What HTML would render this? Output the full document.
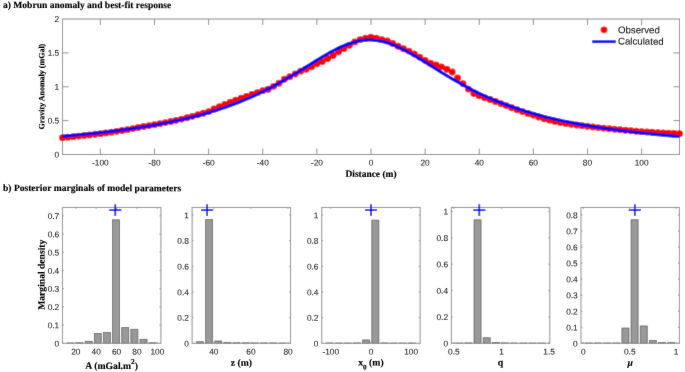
<!DOCTYPE html>
<html><head><meta charset="utf-8"><style>
html,body{margin:0;padding:0;background:#fff;}
body{width:685px;height:372px;overflow:hidden;}
svg{display:block;will-change:transform;text-rendering:geometricPrecision;}
</style></head><body>
<svg width="685" height="372" viewBox="0 0 685 372">
<defs><filter id="bl" x="0" y="0" width="685" height="372" filterUnits="userSpaceOnUse"><feConvolveMatrix order="3" kernelMatrix="0.01000 0.08000 0.01000 0.08000 0.64000 0.08000 0.01000 0.08000 0.01000" edgeMode="duplicate"/></filter><filter id="bl2" x="0" y="0" width="685" height="372" filterUnits="userSpaceOnUse"><feConvolveMatrix order="3" kernelMatrix="0.00250 0.04500 0.00250 0.04500 0.81000 0.04500 0.00250 0.04500 0.00250" edgeMode="duplicate"/></filter></defs>
<g filter="url(#bl)">
<rect x="0" y="0" width="685" height="372" fill="#fff"/>
<g fill="none" stroke="#8c8c8c" stroke-width="1">
<rect x="62.5" y="19" width="617" height="135.5"/>
<path d="M100.39 154.5V148.5M100.39 19V25M154.51 154.5V148.5M154.51 19V25M208.63 154.5V148.5M208.63 19V25M262.75 154.5V148.5M262.75 19V25M316.88 154.5V148.5M316.88 19V25M371 154.5V148.5M371 19V25M425.12 154.5V148.5M425.12 19V25M479.25 154.5V148.5M479.25 19V25M533.37 154.5V148.5M533.37 19V25M587.49 154.5V148.5M587.49 19V25M641.61 154.5V148.5M641.61 19V25M62.5 120.62H68.5M679.5 120.62H673.5M62.5 86.75H68.5M679.5 86.75H673.5M62.5 52.88H68.5M679.5 52.88H673.5"/>
</g>
<g fill="#ff0000"><circle cx="62.5" cy="137.71" r="3.45"/><circle cx="67.91" cy="137.19" r="3.45"/><circle cx="73.32" cy="136.66" r="3.45"/><circle cx="78.74" cy="136.1" r="3.45"/><circle cx="84.15" cy="135.53" r="3.45"/><circle cx="89.56" cy="134.93" r="3.45"/><circle cx="94.97" cy="134.31" r="3.45"/><circle cx="100.39" cy="133.66" r="3.45"/><circle cx="105.8" cy="132.91" r="3.45"/><circle cx="111.21" cy="132.14" r="3.45"/><circle cx="116.62" cy="131.34" r="3.45"/><circle cx="122.04" cy="130.5" r="3.45"/><circle cx="127.45" cy="129.63" r="3.45"/><circle cx="132.86" cy="128.58" r="3.45"/><circle cx="138.27" cy="127.49" r="3.45"/><circle cx="143.68" cy="126.5" r="3.45"/><circle cx="149.1" cy="125.59" r="3.45"/><circle cx="154.51" cy="124.64" r="3.45"/><circle cx="159.92" cy="123.64" r="3.45"/><circle cx="165.33" cy="122.59" r="3.45"/><circle cx="170.75" cy="121.49" r="3.45"/><circle cx="176.16" cy="120.34" r="3.45"/><circle cx="181.57" cy="119.12" r="3.45"/><circle cx="186.98" cy="117.76" r="3.45"/><circle cx="192.39" cy="116.33" r="3.45"/><circle cx="197.81" cy="114.82" r="3.45"/><circle cx="203.22" cy="113.25" r="3.45"/><circle cx="208.63" cy="111.59" r="3.45"/><circle cx="214.04" cy="109.07" r="3.45"/><circle cx="219.46" cy="106.66" r="3.45"/><circle cx="224.87" cy="104.49" r="3.45"/><circle cx="230.28" cy="102.23" r="3.45"/><circle cx="235.69" cy="100.3" r="3.45"/><circle cx="241.11" cy="98.27" r="3.45"/><circle cx="246.52" cy="96.43" r="3.45"/><circle cx="251.93" cy="94.48" r="3.45"/><circle cx="257.34" cy="92.62" r="3.45"/><circle cx="262.75" cy="90.64" r="3.45"/><circle cx="268.17" cy="89.28" r="3.45"/><circle cx="273.58" cy="86.35" r="3.45"/><circle cx="278.99" cy="83.31" r="3.45"/><circle cx="284.4" cy="79.25" r="3.45"/><circle cx="289.82" cy="76.79" r="3.45"/><circle cx="295.23" cy="73.97" r="3.45"/><circle cx="300.64" cy="71.17" r="3.45"/><circle cx="306.05" cy="69.27" r="3.45"/><circle cx="311.46" cy="66.83" r="3.45"/><circle cx="316.88" cy="63.87" r="3.45"/><circle cx="322.29" cy="61.46" r="3.45"/><circle cx="327.7" cy="58.49" r="3.45"/><circle cx="333.11" cy="55.56" r="3.45"/><circle cx="338.53" cy="51.77" r="3.45"/><circle cx="343.94" cy="48.48" r="3.45"/><circle cx="349.35" cy="45.33" r="3.45"/><circle cx="354.76" cy="41.9" r="3.45"/><circle cx="360.18" cy="39.65" r="3.45"/><circle cx="365.59" cy="38.22" r="3.45"/><circle cx="371" cy="37.29" r="3.45"/><circle cx="376.41" cy="38.22" r="3.45"/><circle cx="381.82" cy="39.58" r="3.45"/><circle cx="387.24" cy="40.88" r="3.45"/><circle cx="392.65" cy="43.57" r="3.45"/><circle cx="398.06" cy="46.18" r="3.45"/><circle cx="403.47" cy="48.73" r="3.45"/><circle cx="408.89" cy="51.09" r="3.45"/><circle cx="414.3" cy="54.02" r="3.45"/><circle cx="419.71" cy="57.12" r="3.45"/><circle cx="425.12" cy="60.35" r="3.45"/><circle cx="430.54" cy="63.17" r="3.45"/><circle cx="435.95" cy="64.94" r="3.45"/><circle cx="441.36" cy="66.83" r="3.45"/><circle cx="446.77" cy="69.3" r="3.45"/><circle cx="452.18" cy="72.05" r="3.45"/><circle cx="457.6" cy="77.9" r="3.45"/><circle cx="463.01" cy="83.79" r="3.45"/><circle cx="468.42" cy="89.1" r="3.45"/><circle cx="473.83" cy="93.55" r="3.45"/><circle cx="479.25" cy="95.85" r="3.45"/><circle cx="484.66" cy="97.77" r="3.45"/><circle cx="490.07" cy="99.56" r="3.45"/><circle cx="495.48" cy="101.51" r="3.45"/><circle cx="500.89" cy="103.62" r="3.45"/><circle cx="506.31" cy="105.62" r="3.45"/><circle cx="511.72" cy="107.71" r="3.45"/><circle cx="517.13" cy="109.71" r="3.45"/><circle cx="522.54" cy="111.6" r="3.45"/><circle cx="527.96" cy="113.4" r="3.45"/><circle cx="533.37" cy="115.12" r="3.45"/><circle cx="538.78" cy="116.95" r="3.45"/><circle cx="544.19" cy="118.7" r="3.45"/><circle cx="549.61" cy="120.17" r="3.45"/><circle cx="555.02" cy="121.38" r="3.45"/><circle cx="560.43" cy="122.51" r="3.45"/><circle cx="565.84" cy="123.38" r="3.45"/><circle cx="571.25" cy="124.19" r="3.45"/><circle cx="576.67" cy="124.94" r="3.45"/><circle cx="582.08" cy="125.64" r="3.45"/><circle cx="587.49" cy="126.29" r="3.45"/><circle cx="592.9" cy="126.96" r="3.45"/><circle cx="598.32" cy="127.59" r="3.45"/><circle cx="603.73" cy="128.17" r="3.45"/><circle cx="609.14" cy="128.72" r="3.45"/><circle cx="614.55" cy="129.23" r="3.45"/><circle cx="619.96" cy="129.77" r="3.45"/><circle cx="625.38" cy="130.28" r="3.45"/><circle cx="630.79" cy="130.76" r="3.45"/><circle cx="636.2" cy="131.21" r="3.45"/><circle cx="641.61" cy="131.63" r="3.45"/><circle cx="647.03" cy="131.98" r="3.45"/><circle cx="652.44" cy="132.31" r="3.45"/><circle cx="657.85" cy="132.62" r="3.45"/><circle cx="663.26" cy="132.91" r="3.45"/><circle cx="668.68" cy="133.17" r="3.45"/><circle cx="674.09" cy="133.42" r="3.45"/><circle cx="679.5" cy="133.64" r="3.45"/></g>
<polyline points="62.5,136.27 65.21,136.04 67.91,135.81 70.62,135.57 73.32,135.33 76.03,135.08 78.74,134.83 81.44,134.57 84.15,134.31 86.86,134.04 89.56,133.77 92.27,133.49 94.97,133.2 97.68,132.91 100.39,132.61 103.09,132.31 105.8,132 108.5,131.68 111.21,131.35 113.92,131.02 116.62,130.68 119.33,130.34 122.04,129.98 124.74,129.62 127.45,129.25 130.15,128.87 132.86,128.48 135.57,128.08 138.27,127.67 140.98,127.26 143.68,126.83 146.39,126.39 149.1,125.95 151.8,125.49 154.51,125.02 157.21,124.54 159.92,124.04 162.63,123.54 165.33,123.02 168.04,122.49 170.75,121.94 173.45,121.38 176.16,120.81 178.86,120.22 181.57,119.62 184.28,119 186.98,118.36 189.69,117.71 192.39,117.04 195.1,116.36 197.81,115.65 200.51,114.93 203.22,114.18 205.93,113.42 208.63,112.64 211.34,111.83 214.04,111.01 216.75,110.16 219.46,109.29 222.16,108.39 224.87,107.47 227.57,106.53 230.28,105.56 232.99,104.56 235.69,103.54 238.4,102.49 241.11,101.41 243.81,100.3 246.52,99.17 249.22,98 251.93,96.81 254.64,95.58 257.34,94.33 260.05,93.04 262.75,91.72 265.46,90.38 268.17,89 270.87,87.59 273.58,86.15 276.29,84.68 278.99,83.18 281.7,81.65 284.4,80.1 287.11,78.52 289.82,76.92 292.52,75.29 295.23,73.65 297.93,71.98 300.64,70.31 303.35,68.62 306.05,66.93 308.76,65.23 311.46,63.53 314.17,61.85 316.88,60.17 319.58,58.51 322.29,56.88 325,55.28 327.7,53.72 330.41,52.2 333.11,50.74 335.82,49.34 338.53,48.01 341.23,46.76 343.94,45.59 346.64,44.52 349.35,43.54 352.06,42.67 354.76,41.92 357.47,41.28 360.18,40.77 362.88,40.39 365.59,40.13 368.29,40.01 371,40.03 373.71,40.17 376.41,40.45 379.12,40.86 381.82,41.4 384.53,42.06 387.24,42.84 389.94,43.73 392.65,44.72 395.36,45.82 398.06,47 400.77,48.27 403.47,49.62 406.18,51.03 408.89,52.5 411.59,54.03 414.3,55.6 417,57.21 419.71,58.84 422.42,60.51 425.12,62.18 427.83,63.87 430.54,65.57 433.24,67.27 435.95,68.96 438.65,70.64 441.36,72.32 444.07,73.98 446.77,75.62 449.48,77.24 452.18,78.84 454.89,80.41 457.6,81.96 460.3,83.48 463.01,84.98 465.71,86.44 468.42,87.87 471.13,89.28 473.83,90.65 476.54,91.99 479.25,93.3 481.95,94.58 484.66,95.83 487.36,97.05 490.07,98.24 492.78,99.4 495.48,100.53 498.19,101.63 500.89,102.7 503.6,103.74 506.31,104.76 509.01,105.75 511.72,106.72 514.43,107.66 517.13,108.57 519.84,109.46 522.54,110.33 525.25,111.17 527.96,112 530.66,112.8 533.37,113.58 536.07,114.33 538.78,115.07 541.49,115.79 544.19,116.5 546.9,117.18 549.61,117.84 552.31,118.49 555.02,119.12 557.72,119.74 560.43,120.34 563.14,120.93 565.84,121.5 568.55,122.05 571.25,122.59 573.96,123.12 576.67,123.64 579.37,124.14 582.08,124.63 584.79,125.11 587.49,125.58 590.2,126.04 592.9,126.48 595.61,126.92 598.32,127.34 601.02,127.76 603.73,128.16 606.43,128.56 609.14,128.94 611.85,129.32 614.55,129.69 617.26,130.05 619.96,130.41 622.67,130.75 625.38,131.09 628.08,131.42 630.79,131.74 633.5,132.06 636.2,132.37 638.91,132.67 641.61,132.97 644.32,133.26 647.03,133.54 649.73,133.82 652.44,134.09 655.14,134.36 657.85,134.62 660.56,134.88 663.26,135.13 665.97,135.38 668.68,135.62 671.38,135.85 674.09,136.09 676.79,136.31 679.5,136.54" fill="none" stroke="#0000ff" stroke-width="3.1" stroke-linejoin="round"/>
<circle cx="604.0" cy="29.85" r="3.45" fill="#ff0000"/>
<line x1="592.2" y1="41.7" x2="615.8" y2="41.7" stroke="#0000ff" stroke-width="2.8"/>
<g fill="#999999" stroke="#555555" stroke-width="0.75"><rect x="66.9" y="342.94" width="7" height="0.36"/><rect x="76.04" y="342.75" width="7" height="0.55"/><rect x="85.18" y="341.3" width="7" height="2"/><rect x="94.32" y="333.47" width="7" height="9.83"/><rect x="103.46" y="332.37" width="7" height="10.93"/><rect x="112.6" y="219.83" width="7" height="123.47"/><rect x="121.74" y="327.64" width="7" height="15.66"/><rect x="130.88" y="329.28" width="7" height="14.02"/><rect x="140.02" y="339.29" width="7" height="4.01"/><rect x="149.16" y="342.75" width="7" height="0.55"/></g>
<g fill="none" stroke="#8c8c8c" stroke-width="1">
<rect x="62.5" y="207.45" width="98.4" height="135.85"/>
<path d="M62.5 343.3H63.9M160.9 343.3H159.5M62.5 325.09H63.9M160.9 325.09H159.5M62.5 306.88H63.9M160.9 306.88H159.5M62.5 288.67H63.9M160.9 288.67H159.5M62.5 270.46H63.9M160.9 270.46H159.5M62.5 252.25H63.9M160.9 252.25H159.5M62.5 234.04H63.9M160.9 234.04H159.5M62.5 215.83H63.9M160.9 215.83H159.5M75.8 343.3V341.9M75.8 207.45V208.85M96.18 343.3V341.9M96.18 207.45V208.85M116.57 343.3V341.9M116.57 207.45V208.85M136.95 343.3V341.9M136.95 207.45V208.85M157.33 343.3V341.9M157.33 207.45V208.85"/>
</g>
<path d="M109.25 210.2h12.1M115.3 204.2v11.8" stroke="#0000ff" stroke-width="1.7" fill="none"/>
<g fill="#999999" stroke="#555555" stroke-width="0.75"><rect x="196.52" y="341.76" width="7" height="1.54"/><rect x="205.66" y="219.64" width="7" height="123.66"/><rect x="214.8" y="340.99" width="7" height="2.31"/><rect x="223.94" y="342.4" width="7" height="0.9"/><rect x="233.08" y="342.79" width="7" height="0.51"/><rect x="242.22" y="342.79" width="7" height="0.51"/><rect x="251.36" y="342.92" width="7" height="0.38"/><rect x="260.5" y="342.92" width="7" height="0.38"/><rect x="269.64" y="342.92" width="7" height="0.38"/><rect x="278.78" y="343.04" width="7" height="0.26"/></g>
<g fill="none" stroke="#8c8c8c" stroke-width="1">
<rect x="192.12" y="207.45" width="98.4" height="135.85"/>
<path d="M192.12 343.3H193.52M290.52 343.3H289.12M192.12 317.64H193.52M290.52 317.64H289.12M192.12 291.99H193.52M290.52 291.99H289.12M192.12 266.33H193.52M290.52 266.33H289.12M192.12 240.67H193.52M290.52 240.67H289.12M192.12 215.02H193.52M290.52 215.02H289.12M213.82 343.3V341.9M213.82 207.45V208.85M250.92 343.3V341.9M250.92 207.45V208.85M288.02 343.3V341.9M288.02 207.45V208.85"/>
</g>
<path d="M201.05 210.2h12.1M207.1 204.2v11.8" stroke="#0000ff" stroke-width="1.7" fill="none"/>
<g fill="#999999" stroke="#555555" stroke-width="0.75"><rect x="326.14" y="343.04" width="7" height="0.26"/><rect x="335.28" y="343.04" width="7" height="0.26"/><rect x="344.42" y="343.04" width="7" height="0.26"/><rect x="353.56" y="342.92" width="7" height="0.38"/><rect x="362.7" y="339.96" width="7" height="3.34"/><rect x="371.84" y="220.15" width="7" height="123.15"/><rect x="380.98" y="342.92" width="7" height="0.38"/><rect x="390.12" y="343.04" width="7" height="0.26"/><rect x="399.26" y="343.04" width="7" height="0.26"/><rect x="408.4" y="343.04" width="7" height="0.26"/></g>
<g fill="none" stroke="#8c8c8c" stroke-width="1">
<rect x="321.74" y="207.45" width="98.4" height="135.85"/>
<path d="M321.74 343.3H323.14M420.14 343.3H418.74M321.74 317.64H323.14M420.14 317.64H418.74M321.74 291.99H323.14M420.14 291.99H418.74M321.74 266.33H323.14M420.14 266.33H418.74M321.74 240.67H323.14M420.14 240.67H418.74M321.74 215.02H323.14M420.14 215.02H418.74M330.71 343.3V341.9M330.71 207.45V208.85M370.94 343.3V341.9M370.94 207.45V208.85M411.17 343.3V341.9M411.17 207.45V208.85"/>
</g>
<path d="M364.95 210.2h12.1M371 204.2v11.8" stroke="#0000ff" stroke-width="1.7" fill="none"/>
<g fill="#999999" stroke="#555555" stroke-width="0.75"><rect x="455.76" y="343.04" width="7" height="0.26"/><rect x="464.9" y="342.9" width="7" height="0.4"/><rect x="474.04" y="219.85" width="7" height="123.45"/><rect x="483.18" y="337.76" width="7" height="5.54"/><rect x="492.32" y="342.51" width="7" height="0.79"/><rect x="501.46" y="342.9" width="7" height="0.4"/><rect x="510.6" y="343.04" width="7" height="0.26"/><rect x="519.74" y="343.04" width="7" height="0.26"/><rect x="528.88" y="343.04" width="7" height="0.26"/><rect x="538.02" y="343.04" width="7" height="0.26"/></g>
<g fill="none" stroke="#8c8c8c" stroke-width="1">
<rect x="451.36" y="207.45" width="98.4" height="135.85"/>
<path d="M451.36 343.3H452.76M549.76 343.3H548.36M451.36 316.92H452.76M549.76 316.92H548.36M451.36 290.54H452.76M549.76 290.54H548.36M451.36 264.16H452.76M549.76 264.16H548.36M451.36 237.79H452.76M549.76 237.79H548.36M451.36 211.41H452.76M549.76 211.41H548.36M453.86 343.3V341.9M453.86 207.45V208.85M501.48 343.3V341.9M501.48 207.45V208.85M549.09 343.3V341.9M549.09 207.45V208.85"/>
</g>
<path d="M473.25 210.2h12.1M479.3 204.2v11.8" stroke="#0000ff" stroke-width="1.7" fill="none"/>
<g fill="#999999" stroke="#555555" stroke-width="0.75"><rect x="585.38" y="342.98" width="7" height="0.32"/><rect x="594.52" y="342.98" width="7" height="0.32"/><rect x="603.66" y="342.98" width="7" height="0.32"/><rect x="612.8" y="342.98" width="7" height="0.32"/><rect x="621.94" y="328.06" width="7" height="15.24"/><rect x="631.08" y="219.8" width="7" height="123.5"/><rect x="640.22" y="325.98" width="7" height="17.32"/><rect x="649.36" y="340.57" width="7" height="2.73"/><rect x="658.5" y="342.5" width="7" height="0.8"/><rect x="667.64" y="342.66" width="7" height="0.64"/></g>
<g fill="none" stroke="#8c8c8c" stroke-width="1">
<rect x="580.98" y="207.45" width="98.4" height="135.85"/>
<path d="M580.98 343.3H582.38M679.38 343.3H677.98M580.98 327.26H582.38M679.38 327.26H677.98M580.98 311.22H582.38M679.38 311.22H677.98M580.98 295.18H582.38M679.38 295.18H677.98M580.98 279.14H582.38M679.38 279.14H677.98M580.98 263.11H582.38M679.38 263.11H677.98M580.98 247.07H582.38M679.38 247.07H677.98M580.98 231.03H582.38M679.38 231.03H677.98M580.98 214.99H582.38M679.38 214.99H677.98M583.39 343.3V341.9M583.39 207.45V208.85M629.76 343.3V341.9M629.76 207.45V208.85M676.13 343.3V341.9M676.13 207.45V208.85"/>
</g>
<path d="M628.75 210.2h12.1M634.8 204.2v11.8" stroke="#0000ff" stroke-width="1.7" fill="none"/>
</g>
<g filter="url(#bl2)">
<g font-family="'Liberation Sans', sans-serif" font-size="8.3" fill="#262626" stroke="#262626" stroke-width="0.1">
<text x="100.39" y="165.5" transform="rotate(0.06 100.39 165.5)" text-anchor="middle">-100</text>
<text x="154.51" y="165.5" transform="rotate(0.06 154.51 165.5)" text-anchor="middle">-80</text>
<text x="208.63" y="165.5" transform="rotate(0.06 208.63 165.5)" text-anchor="middle">-60</text>
<text x="262.75" y="165.5" transform="rotate(0.06 262.75 165.5)" text-anchor="middle">-40</text>
<text x="316.88" y="165.5" transform="rotate(0.06 316.88 165.5)" text-anchor="middle">-20</text>
<text x="371" y="165.5" transform="rotate(0.06 371 165.5)" text-anchor="middle">0</text>
<text x="425.12" y="165.5" transform="rotate(0.06 425.12 165.5)" text-anchor="middle">20</text>
<text x="479.25" y="165.5" transform="rotate(0.06 479.25 165.5)" text-anchor="middle">40</text>
<text x="533.37" y="165.5" transform="rotate(0.06 533.37 165.5)" text-anchor="middle">60</text>
<text x="587.49" y="165.5" transform="rotate(0.06 587.49 165.5)" text-anchor="middle">80</text>
<text x="641.61" y="165.5" transform="rotate(0.06 641.61 165.5)" text-anchor="middle">100</text>
<text x="59.2" y="157.47" transform="rotate(0.06 59.2 157.47)" text-anchor="end">0</text>
<text x="59.2" y="123.59" transform="rotate(0.06 59.2 123.59)" text-anchor="end">0.5</text>
<text x="59.2" y="89.72" transform="rotate(0.06 59.2 89.72)" text-anchor="end">1</text>
<text x="59.2" y="55.84" transform="rotate(0.06 59.2 55.84)" text-anchor="end">1.5</text>
<text x="59.2" y="21.97" transform="rotate(0.06 59.2 21.97)" text-anchor="end">2</text>
</g>
<g font-family="'Liberation Sans', sans-serif" font-size="9.7" fill="#1a1a1a" stroke="#1a1a1a" stroke-width="0.1">
<text x="617.9" y="33.3" transform="rotate(0.06 617.9 33.3)">Observed</text>
<text x="617.9" y="44.6" transform="rotate(0.06 617.9 44.6)">Calculated</text>
</g>
<g font-family="'Liberation Serif', serif" font-weight="bold" fill="#000" stroke="#000" stroke-width="0.15">
<text x="3" y="7.7" transform="rotate(0.06 3 7.7)" font-size="9.55">a) Mobrun anomaly and best-fit response</text>
<text x="3" y="191" transform="rotate(0.06 3 191)" font-size="9.55">b) Posterior marginals of model parameters</text>
<text x="371" y="176.9" transform="rotate(0.06 371 176.9)" font-size="9.45" text-anchor="middle">Distance (m)</text>
<text transform="translate(44.2 86.6) rotate(-89.94)" font-size="8.0" text-anchor="middle">Gravity Anomaly (mGal)</text>
<text transform="translate(44.6 274.7) rotate(-89.94)" font-size="9.6" text-anchor="middle">Marginal density</text>
</g>
<g font-family="'Liberation Sans', sans-serif" font-size="8.3" fill="#262626" stroke="#262626" stroke-width="0.1">
<text x="59.2" y="346.5" transform="rotate(0.06 59.2 346.5)" text-anchor="end">0</text>
<text x="59.2" y="328.29" transform="rotate(0.06 59.2 328.29)" text-anchor="end">0.1</text>
<text x="59.2" y="310.08" transform="rotate(0.06 59.2 310.08)" text-anchor="end">0.2</text>
<text x="59.2" y="291.87" transform="rotate(0.06 59.2 291.87)" text-anchor="end">0.3</text>
<text x="59.2" y="273.66" transform="rotate(0.06 59.2 273.66)" text-anchor="end">0.4</text>
<text x="59.2" y="255.45" transform="rotate(0.06 59.2 255.45)" text-anchor="end">0.5</text>
<text x="59.2" y="237.24" transform="rotate(0.06 59.2 237.24)" text-anchor="end">0.6</text>
<text x="59.2" y="219.03" transform="rotate(0.06 59.2 219.03)" text-anchor="end">0.7</text>
<text x="75.8" y="354.4" transform="rotate(0.06 75.8 354.4)" text-anchor="middle">20</text>
<text x="96.18" y="354.4" transform="rotate(0.06 96.18 354.4)" text-anchor="middle">40</text>
<text x="116.57" y="354.4" transform="rotate(0.06 116.57 354.4)" text-anchor="middle">60</text>
<text x="136.95" y="354.4" transform="rotate(0.06 136.95 354.4)" text-anchor="middle">80</text>
<text x="157.33" y="354.4" transform="rotate(0.06 157.33 354.4)" text-anchor="middle">100</text>
</g>
<text x="111.7" y="368.9" transform="rotate(0.06 111.7 368.9)" font-family="'Liberation Serif', serif" font-weight="bold" font-size="9.7" text-anchor="middle" fill="#000" stroke="#000" stroke-width="0.15"><tspan>A (mGal.m</tspan><tspan font-size="7.5" dy="-5">2</tspan><tspan dy="5">)</tspan></text>
<g font-family="'Liberation Sans', sans-serif" font-size="8.3" fill="#262626" stroke="#262626" stroke-width="0.1">
<text x="188.82" y="346.5" transform="rotate(0.06 188.82 346.5)" text-anchor="end">0</text>
<text x="188.82" y="320.84" transform="rotate(0.06 188.82 320.84)" text-anchor="end">0.2</text>
<text x="188.82" y="295.19" transform="rotate(0.06 188.82 295.19)" text-anchor="end">0.4</text>
<text x="188.82" y="269.53" transform="rotate(0.06 188.82 269.53)" text-anchor="end">0.6</text>
<text x="188.82" y="243.87" transform="rotate(0.06 188.82 243.87)" text-anchor="end">0.8</text>
<text x="188.82" y="218.22" transform="rotate(0.06 188.82 218.22)" text-anchor="end">1</text>
<text x="213.82" y="354.4" transform="rotate(0.06 213.82 354.4)" text-anchor="middle">40</text>
<text x="250.92" y="354.4" transform="rotate(0.06 250.92 354.4)" text-anchor="middle">60</text>
<text x="288.02" y="354.4" transform="rotate(0.06 288.02 354.4)" text-anchor="middle">80</text>
</g>
<text x="241.32" y="365.8" transform="rotate(0.06 241.32 365.8)" font-family="'Liberation Serif', serif" font-weight="bold" font-size="9.7" text-anchor="middle" fill="#000" stroke="#000" stroke-width="0.15">z (m)</text>
<g font-family="'Liberation Sans', sans-serif" font-size="8.3" fill="#262626" stroke="#262626" stroke-width="0.1">
<text x="318.44" y="346.5" transform="rotate(0.06 318.44 346.5)" text-anchor="end">0</text>
<text x="318.44" y="320.84" transform="rotate(0.06 318.44 320.84)" text-anchor="end">0.2</text>
<text x="318.44" y="295.19" transform="rotate(0.06 318.44 295.19)" text-anchor="end">0.4</text>
<text x="318.44" y="269.53" transform="rotate(0.06 318.44 269.53)" text-anchor="end">0.6</text>
<text x="318.44" y="243.87" transform="rotate(0.06 318.44 243.87)" text-anchor="end">0.8</text>
<text x="318.44" y="218.22" transform="rotate(0.06 318.44 218.22)" text-anchor="end">1</text>
<text x="330.71" y="354.4" transform="rotate(0.06 330.71 354.4)" text-anchor="middle">-100</text>
<text x="370.94" y="354.4" transform="rotate(0.06 370.94 354.4)" text-anchor="middle">0</text>
<text x="411.17" y="354.4" transform="rotate(0.06 411.17 354.4)" text-anchor="middle">100</text>
</g>
<text x="370.94" y="365.6" transform="rotate(0.06 370.94 365.6)" font-family="'Liberation Serif', serif" font-weight="bold" font-size="9.7" text-anchor="middle" fill="#000" stroke="#000" stroke-width="0.15">x<tspan font-size="7.2" dy="3.9">0</tspan><tspan dy="-3.9"> (m)</tspan></text>
<g font-family="'Liberation Sans', sans-serif" font-size="8.3" fill="#262626" stroke="#262626" stroke-width="0.1">
<text x="448.06" y="346.5" transform="rotate(0.06 448.06 346.5)" text-anchor="end">0</text>
<text x="448.06" y="320.12" transform="rotate(0.06 448.06 320.12)" text-anchor="end">0.2</text>
<text x="448.06" y="293.74" transform="rotate(0.06 448.06 293.74)" text-anchor="end">0.4</text>
<text x="448.06" y="267.36" transform="rotate(0.06 448.06 267.36)" text-anchor="end">0.6</text>
<text x="448.06" y="240.99" transform="rotate(0.06 448.06 240.99)" text-anchor="end">0.8</text>
<text x="448.06" y="214.61" transform="rotate(0.06 448.06 214.61)" text-anchor="end">1</text>
<text x="453.86" y="354.4" transform="rotate(0.06 453.86 354.4)" text-anchor="middle">0.5</text>
<text x="501.48" y="354.4" transform="rotate(0.06 501.48 354.4)" text-anchor="middle">1</text>
<text x="549.09" y="354.4" transform="rotate(0.06 549.09 354.4)" text-anchor="middle">1.5</text>
</g>
<text x="500.56" y="365.6" transform="rotate(0.06 500.56 365.6)" font-family="'Liberation Serif', serif" font-weight="bold" font-size="9.7" text-anchor="middle" fill="#000" stroke="#000" stroke-width="0.15">q</text>
<g font-family="'Liberation Sans', sans-serif" font-size="8.3" fill="#262626" stroke="#262626" stroke-width="0.1">
<text x="577.68" y="346.5" transform="rotate(0.06 577.68 346.5)" text-anchor="end">0</text>
<text x="577.68" y="330.46" transform="rotate(0.06 577.68 330.46)" text-anchor="end">0.1</text>
<text x="577.68" y="314.42" transform="rotate(0.06 577.68 314.42)" text-anchor="end">0.2</text>
<text x="577.68" y="298.38" transform="rotate(0.06 577.68 298.38)" text-anchor="end">0.3</text>
<text x="577.68" y="282.34" transform="rotate(0.06 577.68 282.34)" text-anchor="end">0.4</text>
<text x="577.68" y="266.31" transform="rotate(0.06 577.68 266.31)" text-anchor="end">0.5</text>
<text x="577.68" y="250.27" transform="rotate(0.06 577.68 250.27)" text-anchor="end">0.6</text>
<text x="577.68" y="234.23" transform="rotate(0.06 577.68 234.23)" text-anchor="end">0.7</text>
<text x="577.68" y="218.19" transform="rotate(0.06 577.68 218.19)" text-anchor="end">0.8</text>
<text x="583.39" y="354.4" transform="rotate(0.06 583.39 354.4)" text-anchor="middle">0</text>
<text x="629.76" y="354.4" transform="rotate(0.06 629.76 354.4)" text-anchor="middle">0.5</text>
<text x="676.13" y="354.4" transform="rotate(0.06 676.13 354.4)" text-anchor="middle">1</text>
</g>
<text x="630.18" y="365.8" transform="rotate(0.06 630.18 365.8)" font-family="'Liberation Serif', serif" font-weight="bold" font-size="9.7" text-anchor="middle" fill="#000" stroke="#000" stroke-width="0.15"><tspan font-style="italic">&#956;</tspan></text>
</g>
</svg>
</body></html>
